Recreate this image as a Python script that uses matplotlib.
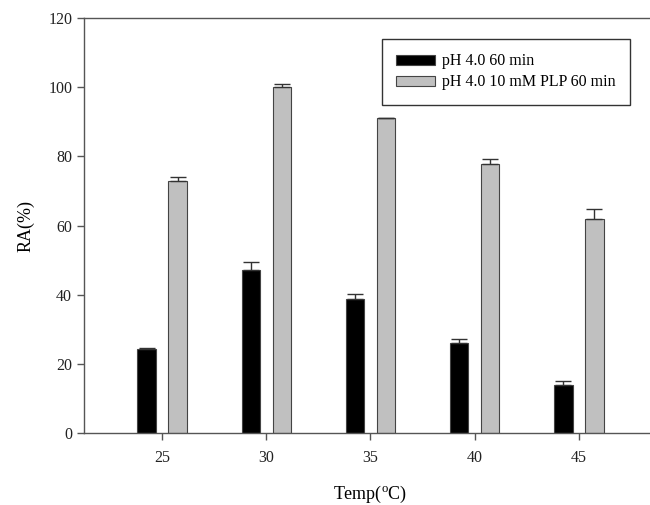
import matplotlib
matplotlib.use("Agg")
import matplotlib.pyplot as plt
import numpy as np

plt.rcParams['font.family'] = ['Liberation Serif', 'DejaVu Serif']
plt.rcParams['mathtext.fontset'] = 'custom'
plt.rcParams['mathtext.rm'] = 'Liberation Serif'

temps = [25, 30, 35, 40, 45]
ra_ph4 = [24.4, 47.0, 38.8, 25.9, 13.8]
err_ph4 = [0.2, 2.4, 1.3, 1.2, 1.3]
ra_plp = [72.8, 100.1, 91.2, 77.7, 62.0]
err_plp = [1.2, 0.7, 0.0, 1.6, 2.8]
series_names = ["pH 4.0 60 min", "pH 4.0 10 mM PLP 60 min"]

fig = plt.figure(figsize=(6.5, 5.05), dpi=100)
ax = fig.add_axes([84 / 650, 1 - 433 / 505, (657 - 84) / 650, (433 - 18) / 505])

x = np.array(temps, dtype=float)
width = 0.89
offset = 0.745
edge = '#444444'

ax.bar(x - offset, ra_ph4, width, color='black', edgecolor=edge, linewidth=0.8,
       label=series_names[0], zorder=2)
ax.bar(x + offset, ra_plp, width, color='#c0c0c0', edgecolor=edge, linewidth=0.8,
       label=series_names[1], zorder=2)

ax.errorbar(x - offset, ra_ph4, yerr=[np.zeros(len(x)), err_ph4], fmt='none',
            ecolor='#333333', elinewidth=1, capsize=6, capthick=1, zorder=3)
ax.errorbar(x + offset, ra_plp, yerr=[np.zeros(len(x)), err_plp], fmt='none',
            ecolor='#333333', elinewidth=1, capsize=6, capthick=1, zorder=3)

ax.set_xlim(21.25, 48.75)
ax.set_ylim(0, 120)
ax.set_xticks(temps)
ax.set_yticks(np.arange(0, 121, 20))
ax.tick_params(axis='both', direction='out', labelsize=11.5, colors='#222222',
               length=5, width=1, color='#555555')
ax.tick_params(axis='x', pad=7)
for s in ax.spines.values():
    s.set_color('#555555')
    s.set_linewidth(1)

ax.set_xlabel('Temp($^{\\rm o}$C)', fontsize=13, labelpad=13)
ax.set_ylabel('RA(%)', fontsize=13, labelpad=10)

leg = ax.legend(loc='upper left', bbox_to_anchor=(382 / 650, 1 - 39 / 505),
                bbox_transform=fig.transFigure, fontsize=11.5, frameon=True,
                fancybox=False, edgecolor='black', handlelength=2.4,
                handleheight=0.62, handletextpad=0.45, labelspacing=0.32,
                borderpad=0.9, borderaxespad=0)
leg.get_frame().set_linewidth(1)

fig.savefig('out.png', dpi=100)
